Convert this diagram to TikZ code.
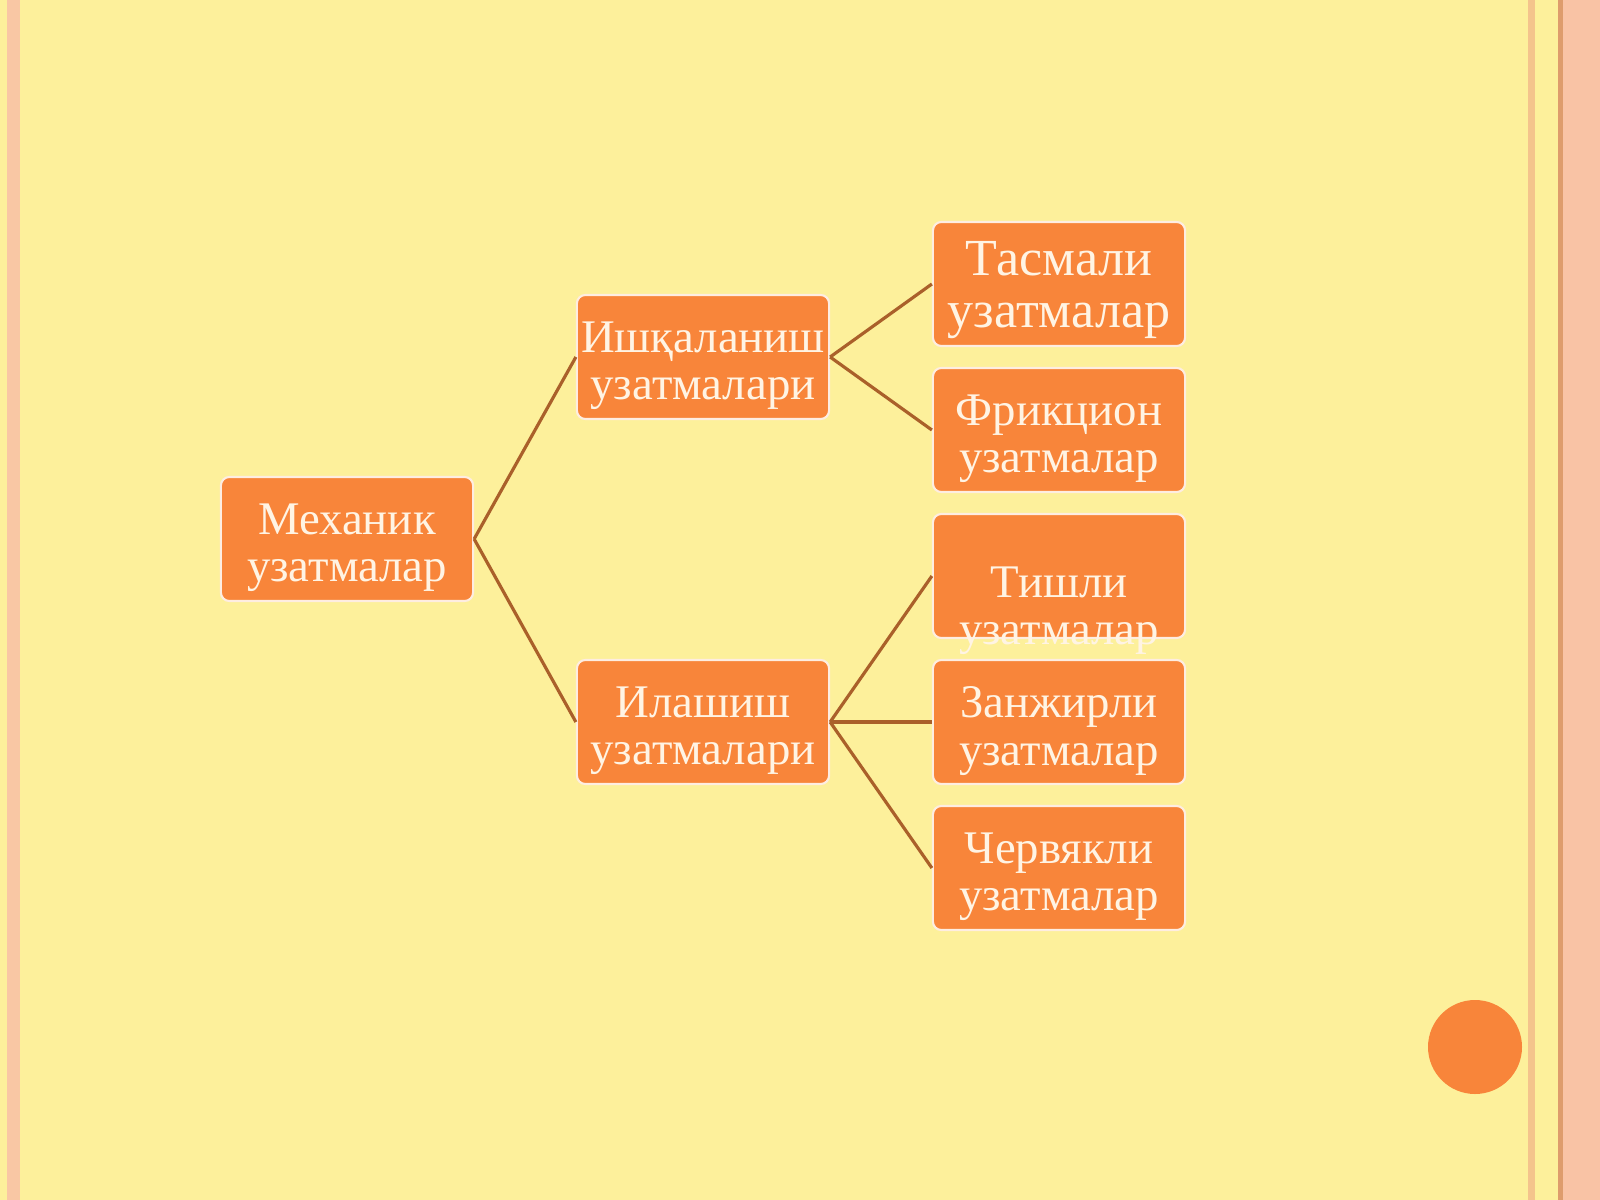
\documentclass[tikz,border=0pt]{standalone}
\usepackage{fontspec}
\setmainfont{Liberation Serif}
\usepackage{tikz}
\usetikzlibrary{calc}

\definecolor{bgyellow}{RGB}{253,240,155}
\definecolor{edgepink}{RGB}{249,195,165}
\definecolor{stripeorange}{RGB}{244,196,140}
\definecolor{stripedark}{RGB}{222,156,108}
\definecolor{boxorange}{RGB}{248,133,58}
\definecolor{linkbrown}{RGB}{170,96,42}
\definecolor{textcream}{RGB}{255,244,228}

\begin{document}
\begin{tikzpicture}[x=0.01cm,y=-0.01cm,
    blk/.style={draw=white!85!boxorange, line width=0.6pt, fill=boxorange,
      rounded corners=2.4pt, minimum width=2.52cm, minimum height=1.24cm,
      inner sep=0pt},
    lbl/.style={text=textcream, align=center, inner sep=0pt,
      font=\fontsize{13.3}{13.4}\selectfont},
    link/.style={draw=linkbrown, line width=0.9pt}]
  % page and margins
  \useasboundingbox (0,0) rectangle (1600,1200);
  \fill [bgyellow] (0,0) rectangle (1600,1200);
  \fill [edgepink!90!bgyellow] (7,0) rectangle (20,1200);
  \fill [stripeorange] (1528,0) rectangle (1535,1200);
  \fill [stripedark] (1558,0) rectangle (1563,1200);
  \fill [edgepink] (1563,0) rectangle (1600,1200);
  \fill [boxorange] (1475,1047) circle [radius=47];

  % boxes
  \node [blk] (mex) at (347,539) {};

  \node [blk] (ishq) at (703,357) {};
  \node [blk] (ilash) at (703,722) {};

  \node [blk] (tasma) at (1059,284) {};
  \node [blk] (frik) at (1059,430) {};
  \node [blk] (tish) at (1059,576) {};
  \node [blk] (zanj) at (1059,722) {};
  \node [blk] (cherv) at (1059,868) {};

  % texts, a little below the box centres
  \node [lbl] (mextxt) at ($ (mex)+(0,9) $) {Механик\\узатмалар};
  \node [lbl] (ishqtxt) at ($ (ishq)+(0,9) $) {Ишқаланиш\\узатмалари};
  \node [lbl] (ilashtxt) at ($ (ilash)+(0,9) $) {Илашиш\\узатмалари};
  \node [lbl, font=\fontsize{14.8}{15}\selectfont]
    (tasmatxt) at ($ (tasma)+(0,6) $) {Тасмали\\узатмалар};
  \node [lbl] (friktxt) at ($ (frik)+(0,9) $) {Фрикцион\\узатмалар};
  \node [lbl] (tishtxt) at ($ (tish)+(0,35) $) {Тишли\\узатмалар};
  \node [lbl] (zanjtxt) at ($ (zanj)+(0,9) $) {Занжирли\\узатмалар};
  \node [lbl] (chervtxt) at ($ (cherv)+(0,9) $) {Червякли\\узатмалар};

  % connectors
  \draw [link] (mex.east) -- (ishq.west);
  \draw [link] (mex.east) -- (ilash.west);

  \draw [link] (ishq.east) -- (tasma.west);
  \draw [link] (ishq.east) -- (frik.west);

  \draw [link] (ilash.east) -- (tish.west);
  \draw [link] (ilash.east) -- (zanj.west);
  \draw [link] (ilash.east) -- (cherv.west);
\end{tikzpicture}
\end{document}
